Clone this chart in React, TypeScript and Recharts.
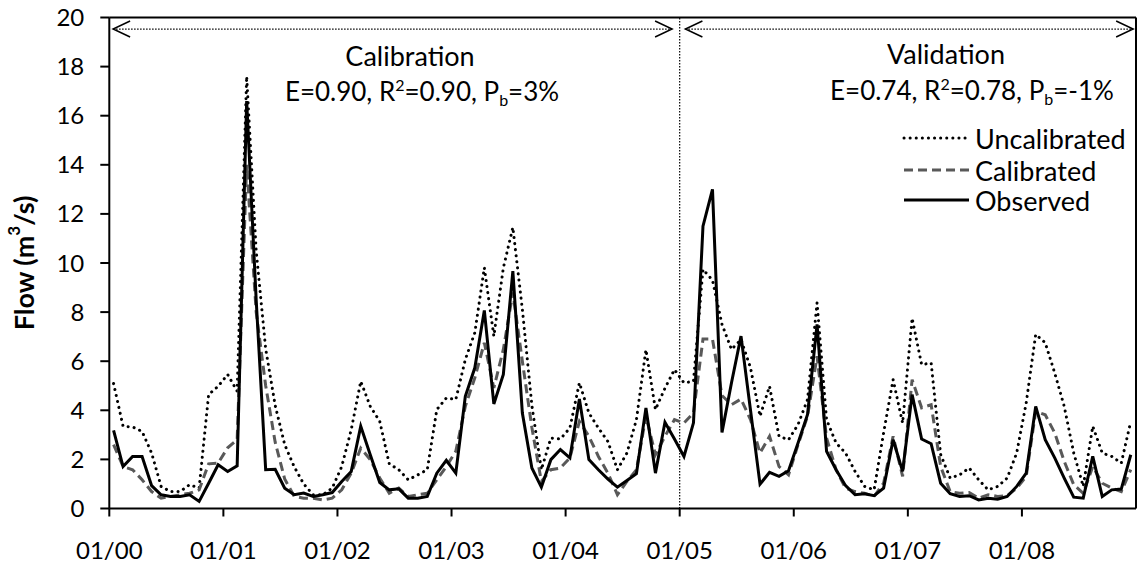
import React from 'react';
import { LineChart, Line, XAxis, YAxis, ReferenceLine } from 'recharts';

const tickLabels = ['01/00', '01/01', '01/02', '01/03', '01/04', '01/05', '01/06', '01/07', '01/08'];
const tickMonths = [0, 12, 24, 36, 48, 60, 72, 84, 96];
const yTicks = [0, 2, 4, 6, 8, 10, 12, 14, 16, 18, 20];

const observed = [
  3.18, 1.71, 2.12, 2.12, 0.93, 0.56, 0.49, 0.49, 0.56, 0.29, 1.03, 1.78,
  1.51, 1.74, 16.6, 8.5, 1.58, 1.6, 0.83, 0.56, 0.63, 0.49, 0.56, 0.65,
  1.1, 1.51, 3.35, 2.19, 1.06, 0.76, 0.8, 0.42, 0.42, 0.49, 1.44, 1.96,
  1.44, 4.57, 5.73, 8.07, 4.26, 5.46, 9.67, 3.89, 1.65, 0.87, 1.99, 2.4,
  2.06, 4.46, 1.99, 1.58, 1.2, 0.87, 1.14, 1.42, 4.1, 1.44, 3.51, 2.83,
  2.12, 3.49, 11.5, 13.0, 3.1, 5.12, 7.02, 4.0, 0.99, 1.47, 1.31, 1.54,
  2.67, 3.83, 7.5, 2.33, 1.58, 0.93, 0.56, 0.6, 0.52, 0.83, 2.8, 1.51,
  4.64, 2.83, 2.64, 1.03, 0.6, 0.49, 0.52, 0.35, 0.42, 0.38, 0.49, 0.9,
  1.44, 4.16, 2.8, 2.06, 1.24, 0.46, 0.42, 2.12, 0.49, 0.76, 0.79, 2.19,
];

const calibrated = [
  2.6, 1.71, 1.58, 1.17, 0.69, 0.42, 0.49, 0.56, 0.62, 0.76, 1.82, 1.85,
  2.47, 2.8, 14.0, 8.0, 5.0, 2.7, 1.2, 0.5, 0.42, 0.42, 0.35, 0.42,
  0.76, 1.44, 2.46, 1.99, 1.24, 0.62, 0.83, 0.49, 0.56, 0.62, 1.17, 1.71,
  2.33, 4.16, 5.32, 6.75, 4.91, 6.48, 8.8, 6.0, 3.3, 1.1, 1.58, 1.65,
  2.06, 3.55, 2.94, 2.12, 1.44, 0.56, 1.1, 1.58, 3.76, 2.19, 2.94, 3.62,
  3.48, 3.89, 6.9, 6.9, 4.6, 4.23, 4.46, 3.62, 2.26, 2.94, 1.71, 1.37,
  2.6, 3.76, 6.2, 2.87, 1.58, 0.83, 0.69, 0.62, 0.49, 1.03, 2.94, 1.31,
  5.25, 4.1, 4.23, 1.71, 0.69, 0.62, 0.65, 0.42, 0.56, 0.49, 0.52, 0.83,
  1.31, 3.96, 3.82, 3.08, 1.92, 0.97, 0.62, 1.71, 1.03, 0.83, 0.69, 1.58,
];

const uncalibrated = [
  5.09, 3.35, 3.32, 3.14, 2.26, 0.9, 0.69, 0.69, 0.97, 0.83, 4.64, 4.98,
  5.46, 4.78, 17.6, 10.5, 6.5, 4.2, 2.6, 1.7, 1.0, 0.56, 0.56, 0.83,
  1.71, 3.21, 5.18, 4.16, 3.55, 1.82, 1.58, 1.17, 1.37, 1.58, 4.03, 4.5,
  4.44, 6.07, 7.16, 9.81, 7.02, 9.8, 11.45, 8.11, 4.2, 1.58, 2.87, 2.83,
  3.28, 5.12, 3.89, 3.28, 2.73, 1.58, 2.26, 3.62, 6.47, 4.03, 4.9, 5.66,
  5.12, 5.18, 9.74, 9.3, 7.5, 6.48, 6.88, 5.73, 3.76, 4.98, 2.94, 2.8,
  3.42, 4.44, 8.38, 3.62, 2.67, 2.26, 1.51, 0.9, 0.76, 3.08, 5.25, 3.48,
  7.75, 5.86, 5.93, 2.2, 1.24, 1.37, 1.65, 1.17, 0.76, 0.9, 1.24, 2.26,
  4.3, 7.09, 6.75, 5.52, 4.16, 2.26, 0.9, 3.35, 2.26, 2.12, 1.85, 3.55,
];

const FONT = 'Lato, "Noto Sans", sans-serif';

const data = observed.map((v, i) => ({
  m: i + 0.45,
  obs: v,
  cal: calibrated[i],
  unc: uncalibrated[i],
}));

const ArrowShape = (p: any) => {
  const { x1, y1, x2, y2 } = p;
  const h = 17;
  const w = 8;
  return (
    <g>
      <line x1={x1} y1={y1} x2={x2} y2={y2} stroke="#000" strokeWidth={1.2} strokeDasharray="1.5 1.5" />
      <polyline points={`${x1 + h},${y1 - w} ${x1},${y1} ${x1 + h},${y1 + w}`} fill="none" stroke="#000" strokeWidth={1.5} />
      <polyline points={`${x2 - h},${y2 - w} ${x2},${y2} ${x2 - h},${y2 + w}`} fill="none" stroke="#000" strokeWidth={1.5} />
    </g>
  );
};

export default function App() {
  return (
    <div style={{ position: 'absolute', left: 0, top: 0, width: 1138, height: 571, background: '#fff' }}>
      <LineChart width={1138} height={571} data={data} margin={{ top: 17.5, right: 2, bottom: 0, left: 0 }}>
        <XAxis
          type="number"
          dataKey="m"
          domain={[0, 108]}
          ticks={tickMonths}
          interval={0}
          allowDataOverflow
          tickFormatter={(v: number) => tickLabels[tickMonths.indexOf(v)]}
          height={62.5}
          axisLine={{ stroke: '#000', strokeWidth: 2 }}
          tickLine={{ stroke: '#000', strokeWidth: 2 }}
          tickSize={8}
          tickMargin={25}
          tick={{ fill: '#000', fontSize: 24, fontFamily: FONT }}
        />
        <YAxis
          type="number"
          domain={[0, 20]}
          ticks={yTicks}
          interval={0}
          width={109.3}
          axisLine={{ stroke: '#000', strokeWidth: 2 }}
          tickLine={{ stroke: '#000', strokeWidth: 2 }}
          tickSize={9}
          tickMargin={16}
          tick={{ fill: '#000', fontSize: 24, fontFamily: FONT }}
        />
        <ReferenceLine y={20} stroke="#000" strokeWidth={2} />
        <ReferenceLine x={108} stroke="#000" strokeWidth={2} />
        <ReferenceLine x={60} stroke="#000" strokeWidth={1.2} strokeDasharray="1.5 1.5" />
        <ReferenceLine segment={[{ x: 0.4, y: 19.53 }, { x: 59.2, y: 19.53 }]} shape={ArrowShape} />
        <ReferenceLine segment={[{ x: 60.6, y: 19.53 }, { x: 107.7, y: 19.53 }]} shape={ArrowShape} />
        <Line type="linear" dataKey="unc" name="Uncalibrated" stroke="#000" strokeWidth={3} strokeDasharray="0.1 6" strokeLinecap="round" dot={false} activeDot={false} isAnimationActive={false} />
        <Line type="linear" dataKey="cal" name="Calibrated" stroke="#595959" strokeWidth={3} strokeDasharray="9 5" dot={false} activeDot={false} isAnimationActive={false} />
        <Line type="linear" dataKey="obs" name="Observed" stroke="#000" strokeWidth={3} dot={false} activeDot={false} isAnimationActive={false} />
      </LineChart>
      <svg width={1138} height={571} style={{ position: 'absolute', left: 0, top: 0, pointerEvents: 'none' }} fontFamily={FONT}>
        <text x={23} y={263} transform="rotate(-90 23 263)" textAnchor="middle" dominantBaseline="central" fontSize={27} fontWeight="bold" fill="#000">
          Flow (m<tspan fontSize={17} dy={-10}>3</tspan><tspan dy={10}>/s)</tspan>
        </text>
        <text x={410} y={66} textAnchor="middle" fontSize={27} fill="#000">Calibration</text>
        <text x={422} y={101} textAnchor="middle" fontSize={26} fill="#000">
          E=0.90, R<tspan fontSize={16} dy={-10}>2</tspan><tspan dy={10}>=0.90, P</tspan><tspan fontSize={16} dy={5}>b</tspan><tspan dy={-5}>=3%</tspan>
        </text>
        <text x={946} y={64} textAnchor="middle" fontSize={27} fill="#000">Validation</text>
        <text x={972} y={100} textAnchor="middle" fontSize={26} fill="#000">
          E=0.74, R<tspan fontSize={16} dy={-10}>2</tspan><tspan dy={10}>=0.78, P</tspan><tspan fontSize={16} dy={5}>b</tspan><tspan dy={-5}>=-1%</tspan>
        </text>
        <g>
          <line x1={904} y1={138} x2={969} y2={138} stroke="#000" strokeWidth={3} strokeDasharray="0.1 6" strokeLinecap="round" />
          <text x={975} y={138} dominantBaseline="central" fontSize={27} fill="#000">Uncalibrated</text>
          <line x1={904} y1={170} x2={969} y2={170} stroke="#595959" strokeWidth={3} strokeDasharray="9 5" />
          <text x={975} y={170} dominantBaseline="central" fontSize={27} fill="#000">Calibrated</text>
          <line x1={904} y1={200} x2={969} y2={200} stroke="#000" strokeWidth={3} />
          <text x={975} y={200} dominantBaseline="central" fontSize={27} fill="#000">Observed</text>
        </g>
      </svg>
    </div>
  );
}
